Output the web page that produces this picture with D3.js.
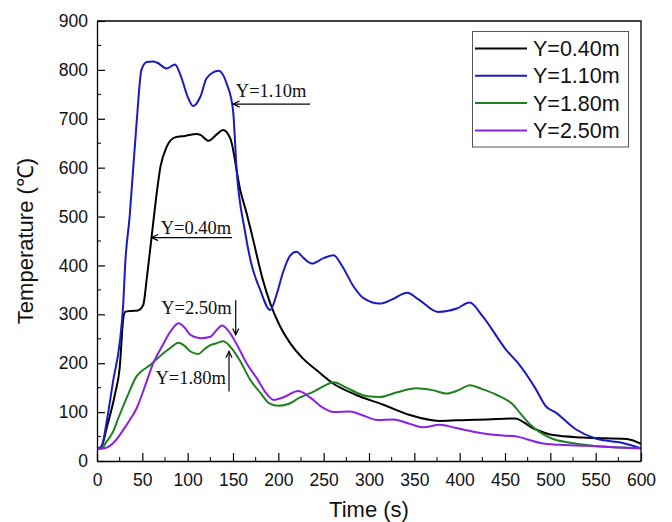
<!DOCTYPE html>
<html>
<head>
<meta charset="utf-8">
<script src="https://cdn.jsdelivr.net/npm/d3@7"></script>
<style>
  html, body { margin: 0; padding: 0; background: #fff; }
  svg { display: block; }
</style>
</head>
<body>
<svg id="chart" width="672" height="522"></svg>
<script>
// Temperature histories at four heights
const seriesNames = ["Y=0.40m", "Y=1.10m", "Y=1.80m", "Y=2.50m"];
const seriesColors = ["#000000", "#1a1ac4", "#1e821e", "#8a22e6"];

const timeY040 = [0, 5, 11, 20, 25, 29, 31, 38, 45, 51, 55, 60, 65, 70, 77, 86, 97, 110, 114, 123, 132, 139, 147, 158, 165, 171, 183, 191, 202, 213, 227, 242, 260, 286, 316, 345, 378, 408, 430, 461, 481, 503, 536, 584, 600];
const tempY040 = [25, 30, 70, 138, 190, 292, 305, 307, 308, 319, 375, 455, 535, 602, 643, 662, 665, 669, 667, 655, 668, 677, 660, 554, 507, 462, 370, 323, 275, 241, 210, 186, 159, 135, 115, 94, 82, 84, 85, 87, 67, 53, 48, 45, 35];

const timeY110 = [0, 5, 11, 18, 25, 29, 31, 36, 44, 49, 55, 62, 66, 77, 86, 92, 100, 106, 114, 121, 134, 143, 150, 154, 163, 170, 180, 191, 198, 205, 213, 220, 228, 237, 250, 261, 270, 283, 294, 312, 325, 342, 355, 376, 397, 411, 425, 451, 464, 484, 495, 506, 528, 550, 580, 600];
const tempY110 = [25, 30, 84, 166, 241, 323, 400, 500, 700, 800, 816, 817, 815, 803, 811, 790, 745, 726, 745, 783, 798, 772, 718, 595, 472, 405, 350, 309, 340, 385, 420, 428, 415, 404, 415, 421, 400, 357, 333, 322, 330, 344, 330, 305, 312, 324, 297, 228, 201, 147, 112, 99, 65, 46, 37, 26];

const timeY180 = [0, 5, 10, 18, 24, 33, 44, 50, 57, 71, 80, 90, 97, 103, 112, 118, 125, 132, 139, 150, 158, 169, 180, 190, 200, 210, 224, 240, 250, 261, 275, 290, 297, 312, 330, 352, 370, 386, 400, 411, 425, 441, 459, 468, 478, 490, 503, 520, 547, 600];
const tempY180 = [25, 25, 38, 61, 90, 130, 174, 185, 194, 217, 230, 242, 235, 224, 219, 228, 237, 241, 245, 227, 204, 166, 140, 118, 113, 116, 130, 143, 153, 161, 150, 137, 133, 131, 140, 149, 145, 138, 146, 155, 147, 135, 115, 95, 74, 57, 45, 38, 31, 26];

const timeY250 = [0, 8, 18, 33, 44, 55, 62, 73, 80, 90, 97, 103, 114, 125, 132, 138, 145, 154, 165, 176, 186, 195, 205, 222, 235, 250, 261, 279, 295, 309, 327, 345, 360, 378, 395, 415, 440, 463, 475, 489, 510, 540, 570, 600];
const tempY250 = [25, 26, 37, 75, 109, 164, 200, 239, 262, 282, 272, 258, 251, 254, 268, 277, 266, 239, 200, 170, 140, 125, 130, 143, 130, 108, 100, 101, 92, 84, 85, 76, 69, 74, 68, 60, 53, 50, 44, 37, 33, 31, 28, 26];

const seriesTimes = [timeY040, timeY110, timeY180, timeY250];
const seriesTemps = [tempY040, tempY110, tempY180, tempY250];

const xTicks = [0, 50, 100, 150, 200, 250, 300, 350, 400, 450, 500, 550, 600];
const yTicks = [0, 100, 200, 300, 400, 500, 600, 700, 800, 900];

const xTitle = "Time (s)";
const yTitle = "Temperature (\u2103)";

// Callouts: label, arrow tail and tip in data units
const calloutLabels = ["Y=1.10m", "Y=0.40m", "Y=2.50m", "Y=1.80m"];
const calloutTail = [[235, 730], [149, 457], [153, 329], [145.6, 142]];
const calloutTip  = [[150.3, 730], [60.3, 457], [153, 258], [145.6, 224]];

// ---------------------------------------------------------------
const svg = d3.select("#chart");
const plot = { left: 97, right: 641, top: 21, bottom: 461 };

const x = d3.scaleLinear().domain([0, 600]).range([plot.left, plot.right]);
const y = d3.scaleLinear().domain([0, 900]).range([plot.bottom, plot.top]);

const sans = "'Liberation Sans', Arial, sans-serif";
const serif = "'Liberation Serif', 'Times New Roman', serif";

// curves
const line = d3.line()
  .x(d => x(d[0]))
  .y(d => y(d[1]))
  .curve(d3.curveMonotoneX);

const clip = svg.append("clipPath").attr("id", "plotClip")
  .append("rect")
  .attr("x", plot.left).attr("y", plot.top)
  .attr("width", plot.right - plot.left).attr("height", plot.bottom - plot.top);

const curves = svg.append("g").attr("clip-path", "url(#plotClip)");
seriesNames.forEach((name, i) => {
  const pts = seriesTimes[i].map((t, j) => [t, seriesTemps[i][j]]);
  curves.append("path")
    .datum(pts)
    .attr("d", line)
    .attr("fill", "none")
    .attr("stroke", seriesColors[i])
    .attr("stroke-width", 2)
    .attr("stroke-linejoin", "round");
});

// axes: ticks point inward
const xMinor = d3.range(0, 601, 25).filter(v => v % 50 !== 0);
const yMinor = d3.range(0, 901, 50).filter(v => v % 100 !== 0);

const xAxis = svg.append("g").attr("transform", `translate(0,${plot.bottom})`)
  .call(d3.axisBottom(x).tickValues(xTicks).tickSizeInner(-8).tickSizeOuter(0).tickPadding(12));
xAxis.append("g").selectAll("line").data(xMinor).join("line")
  .attr("x1", d => x(d)).attr("x2", d => x(d)).attr("y1", 0).attr("y2", -4)
  .attr("stroke", "#000");

const yAxis = svg.append("g").attr("transform", `translate(${plot.left},0)`)
  .call(d3.axisLeft(y).tickValues(yTicks).tickSizeInner(-8).tickSizeOuter(0).tickPadding(10));
yAxis.append("g").selectAll("line").data(yMinor).join("line")
  .attr("y1", d => y(d)).attr("y2", d => y(d)).attr("x1", 0).attr("x2", 4)
  .attr("stroke", "#000");

[xAxis, yAxis].forEach(a => {
  a.select(".domain").attr("stroke", "#000").attr("stroke-width", 1.3);
  a.selectAll(".tick line").attr("stroke", "#000").attr("stroke-width", 1.2);
  a.selectAll(".tick text")
    .attr("font-family", sans).attr("font-size", 17.5).attr("fill", "#111");
});
yAxis.selectAll(".tick text").attr("x", -9);
xAxis.selectAll(".tick text").attr("dy", "0.71em").attr("y", 13);

// frame on top and right
svg.append("path")
  .attr("d", `M${plot.left},${plot.top}H${plot.right}V${plot.bottom}`)
  .attr("fill", "none").attr("stroke", "#000").attr("stroke-width", 1.3);

// axis titles
svg.append("text")
  .attr("x", (plot.left + plot.right) / 2).attr("y", 517)
  .attr("text-anchor", "middle")
  .attr("font-family", sans).attr("font-size", 22).attr("fill", "#111")
  .text(xTitle);

svg.append("text")
  .attr("transform", `translate(33,${(plot.top + plot.bottom) / 2}) rotate(-90)`)
  .attr("text-anchor", "middle")
  .attr("font-family", sans).attr("font-size", 22).attr("fill", "#111")
  .text(yTitle);

// legend
const legend = svg.append("g");
legend.append("rect")
  .attr("x", 472.5).attr("y", 31.5).attr("width", 156).attr("height", 115.5)
  .attr("fill", "#fff").attr("stroke", "#555").attr("stroke-width", 1);
seriesNames.forEach((name, i) => {
  const cy = 48.5 + i * 27.3;
  legend.append("line")
    .attr("x1", 475).attr("x2", 527).attr("y1", cy).attr("y2", cy)
    .attr("stroke", seriesColors[i]).attr("stroke-width", 2);
  legend.append("text")
    .attr("x", 533).attr("y", cy + 7.5)
    .attr("font-family", sans).attr("font-size", 21.5).attr("fill", "#111")
    .text(name);
});

// callout arrows with labels
const notes = svg.append("g").attr("stroke", "#000").attr("fill", "none").attr("stroke-width", 1.2);
function arrow(tail, tip) {
  const x0 = x(tail[0]), y0 = y(tail[1]), x1 = x(tip[0]), y1 = y(tip[1]);
  const ang = Math.atan2(y1 - y0, x1 - x0);
  const L = 7, W = 0.45;
  const a1 = [x1 - L * Math.cos(ang - W), y1 - L * Math.sin(ang - W)];
  const a2 = [x1 - L * Math.cos(ang + W), y1 - L * Math.sin(ang + W)];
  notes.append("path").attr("d", `M${x0},${y0}L${x1},${y1}`);
  notes.append("path").attr("d", `M${a1[0]},${a1[1]}L${x1},${y1}L${a2[0]},${a2[1]}`);
}
calloutLabels.forEach((lab, i) => arrow(calloutTail[i], calloutTip[i]));

const labelText = svg.append("g")
  .attr("font-family", serif).attr("font-size", 18.5).attr("fill", "#111");
// horizontal arrows: label sits on the shaft
labelText.append("text").attr("x", x(calloutTip[0][0]) + 2.5).attr("y", y(calloutTail[0][1]) - 7)
  .text(calloutLabels[0]);
labelText.append("text").attr("x", x(calloutTip[1][0]) + 9).attr("y", y(calloutTail[1][1]) - 3.5)
  .text(calloutLabels[1]);
// vertical arrows: label to the left of the shaft
labelText.append("text").attr("x", x(calloutTail[2][0]) - 4).attr("y", y(calloutTail[2][1]) + 13.5)
  .attr("text-anchor", "end").text(calloutLabels[2]);
labelText.append("text").attr("x", x(calloutTail[3][0]) - 3).attr("y", y(calloutTail[3][1]) - 8)
  .attr("text-anchor", "end").text(calloutLabels[3]);
</script>
</body>
</html>
